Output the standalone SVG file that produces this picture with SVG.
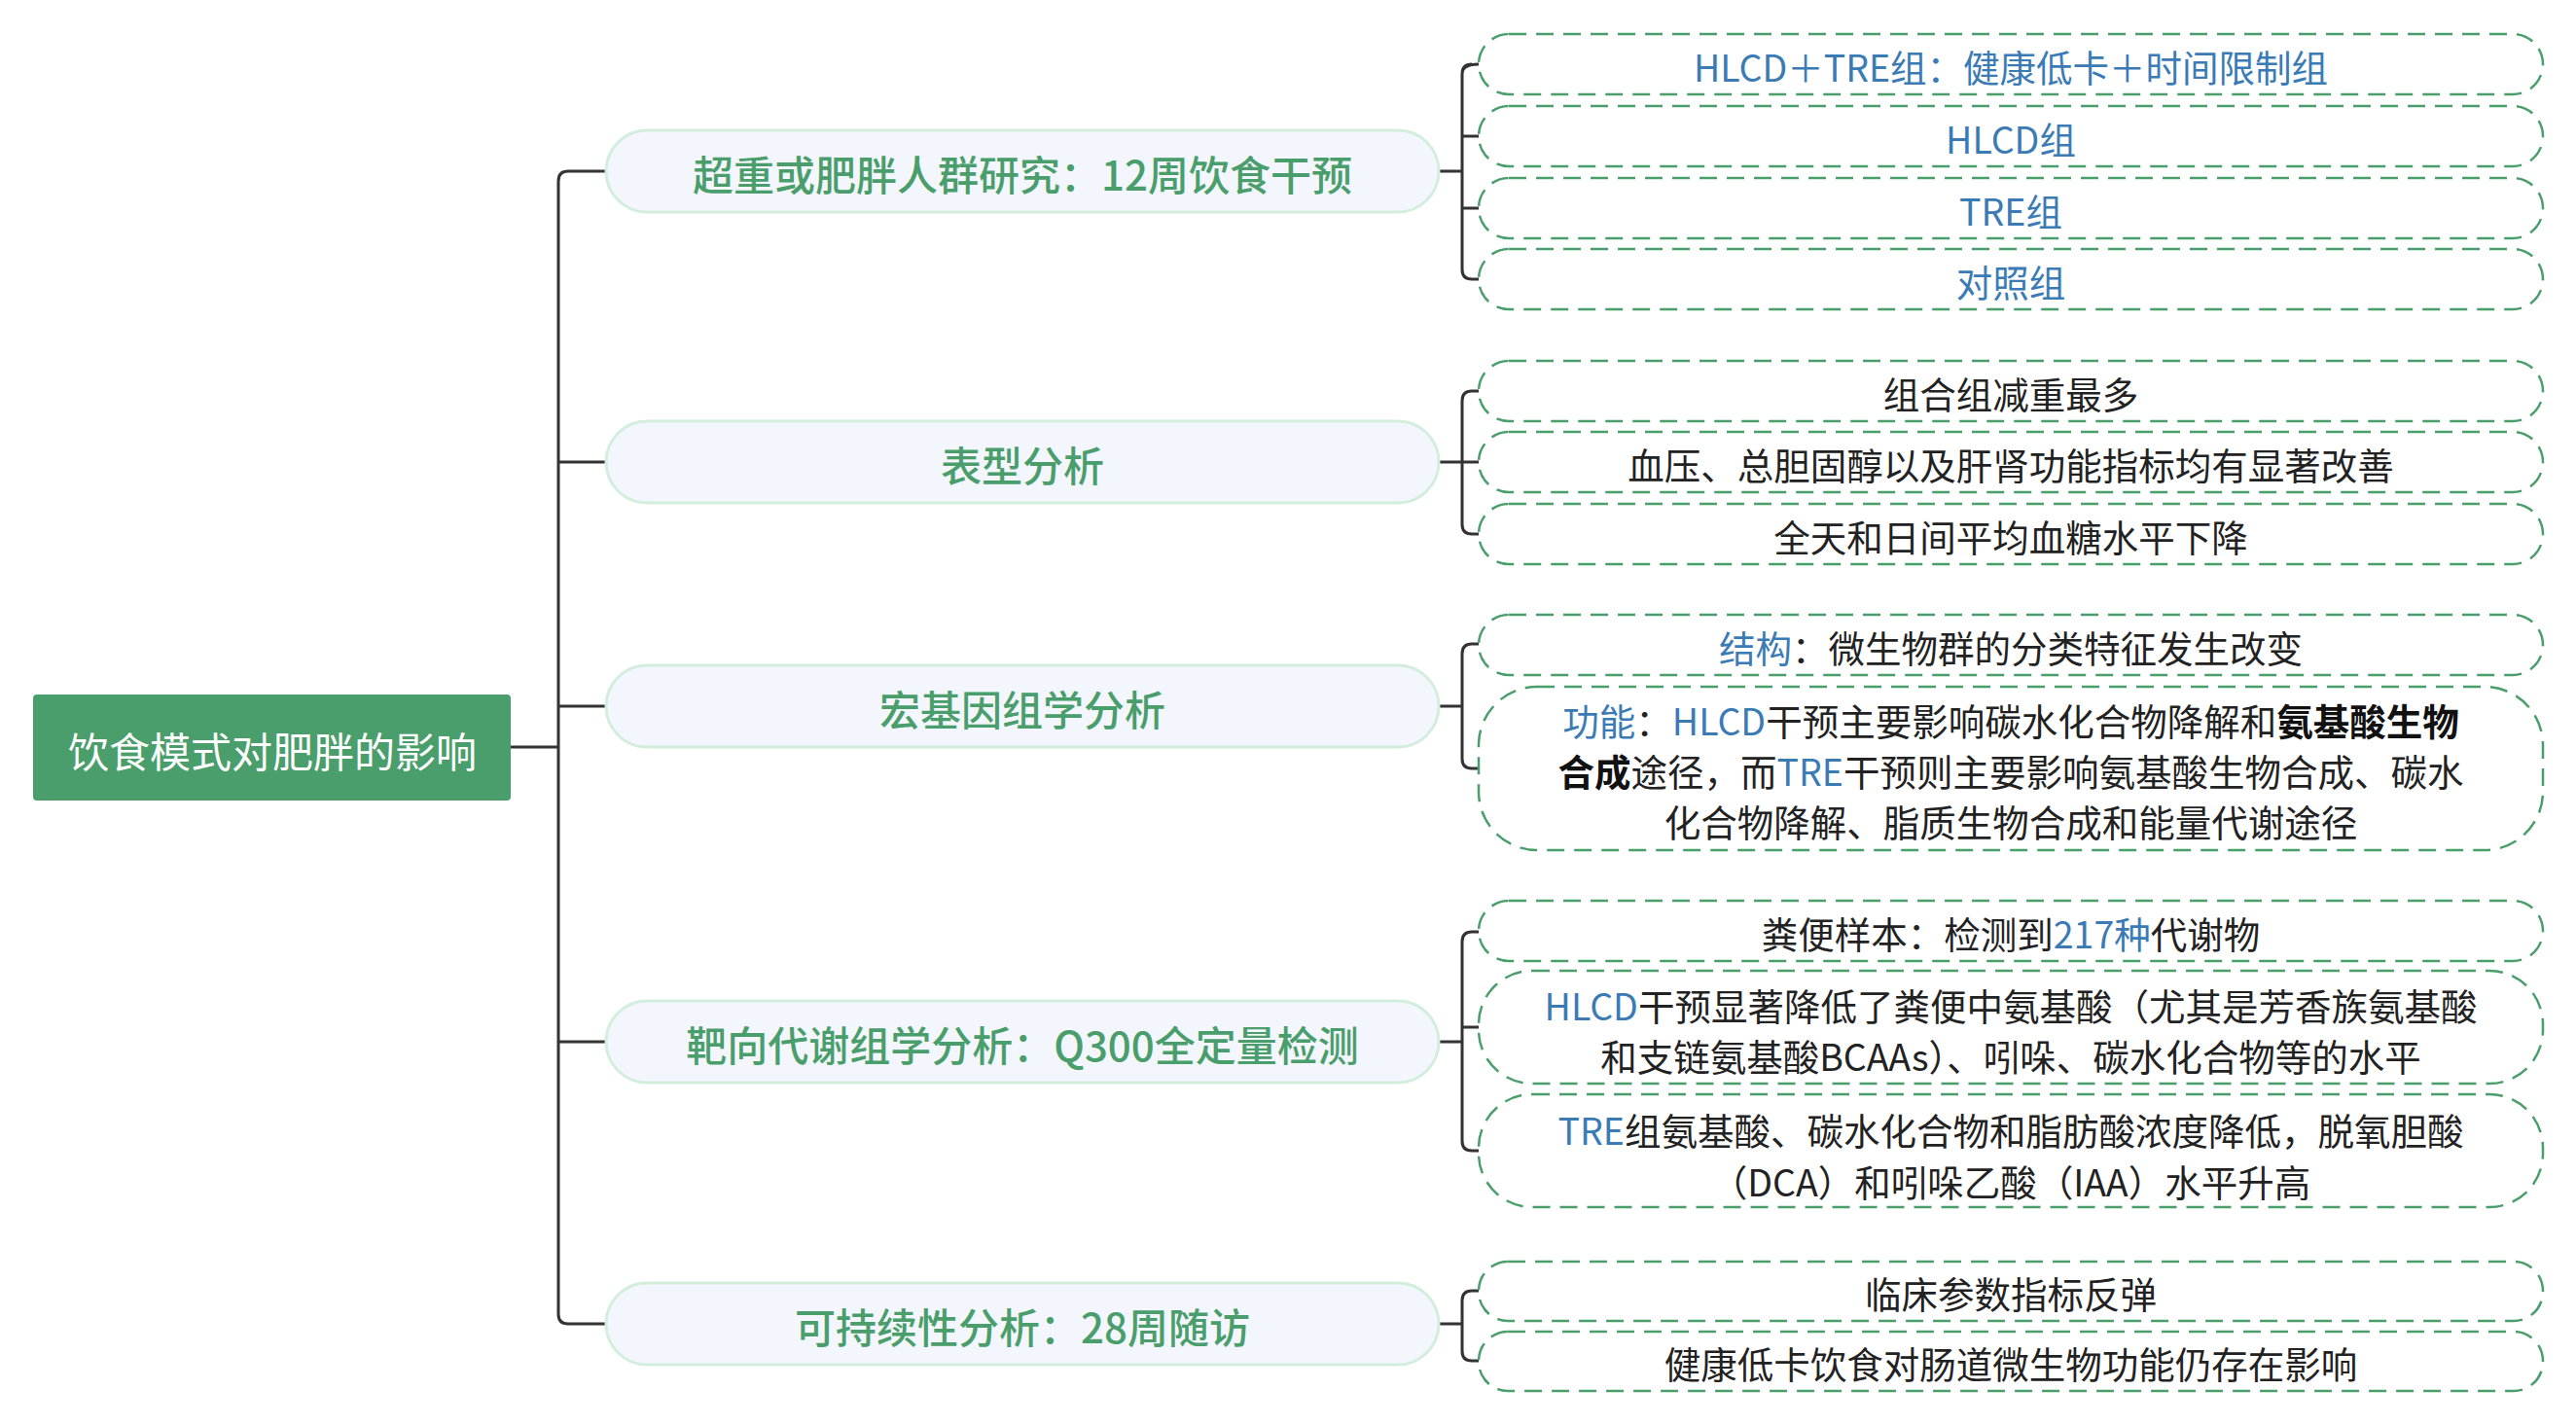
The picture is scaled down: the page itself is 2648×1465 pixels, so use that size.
<svg xmlns="http://www.w3.org/2000/svg" width="2648" height="1465" viewBox="0 0 2648 1465">
<style>
text{font-family:"Noto Sans CJK SC","Noto Sans",sans-serif;dominant-baseline:central;text-anchor:middle}
.br rect{fill:#f4f6fd;stroke:#d3eedd;stroke-width:3}
.br text{fill:#4a9e6b;font-size:42px;font-weight:500}
.lf rect{fill:#fff;stroke:#4a9e6b;stroke-width:2.5;stroke-dasharray:18 10}
.lf text{fill:#222;font-size:37.5px}
.lf .b{fill:#3b7bb5}
.lf .k{font-weight:bold;fill:#111}
.c path{fill:none;stroke:#333;stroke-width:3}
</style>
<rect width="2648" height="1465" fill="#fff"/>
<g class="c" id="connectors">
<path d="M525 768H574M574 186Q574 176 584 176H623M574 186V1351Q574 1361 584 1361H623M574 475H623M574 726H623M574 1071H623"/>
<path d="M1479 176H1503M1513 66Q1503 66 1503 76V277Q1503 287 1513 287H1520M1503 140H1520M1503 214H1520M1503 76Q1503 66 1520 66"/>
<path d="M1479 475H1503M1520 402H1513Q1503 402 1503 412V539Q1503 549 1513 549H1520M1503 475H1520"/>
<path d="M1479 726H1503M1520 662H1513Q1503 662 1503 672V780Q1503 790 1513 790H1520"/>
<path d="M1479 1071H1503M1520 958H1513Q1503 958 1503 968V1173Q1503 1183 1513 1183H1520M1503 1056H1520"/>
<path d="M1479 1361H1503M1520 1327H1513Q1503 1327 1503 1337V1389Q1503 1399 1513 1399H1520"/>
</g>
<g id="root"><rect x="34" y="714" width="491" height="109" rx="4" fill="#4a9e6b"/><text x="280" y="770" fill="#fff" font-size="42">饮食模式对肥胖的影响</text></g>
<g id="b1" class="br"><rect x="623" y="134" width="856" height="84" rx="42"/><text x="1051" y="177">超重或肥胖人群研究：12周饮食干预</text></g>
<g id="b2" class="br"><rect x="623" y="433" width="856" height="84" rx="42"/><text x="1051" y="476">表型分析</text></g>
<g id="b3" class="br"><rect x="623" y="684" width="856" height="84" rx="42"/><text x="1051" y="727">宏基因组学分析</text></g>
<g id="b4" class="br"><rect x="623" y="1029" width="856" height="84" rx="42"/><text x="1051" y="1072">靶向代谢组学分析：Q300全定量检测</text></g>
<g id="b5" class="br"><rect x="623" y="1319" width="856" height="84" rx="42"/><text x="1051" y="1362">可持续性分析：28周随访</text></g>
<g id="l1" class="lf"><rect x="1520" y="35" width="1094" height="62" rx="31"/><text x="2067" y="67" class="b">HLCD＋TRE组：健康低卡＋时间限制组</text></g>
<g id="l2" class="lf"><rect x="1520" y="109" width="1094" height="62" rx="31"/><text x="2067" y="141" class="b">HLCD组</text></g>
<g id="l3" class="lf"><rect x="1520" y="183" width="1094" height="62" rx="31"/><text x="2067" y="215" class="b">TRE组</text></g>
<g id="l4" class="lf"><rect x="1520" y="256" width="1094" height="62" rx="31"/><text x="2067" y="288" class="b">对照组</text></g>
<g id="l5" class="lf"><rect x="1520" y="371" width="1094" height="62" rx="31"/><text x="2067" y="403">组合组减重最多</text></g>
<g id="l6" class="lf"><rect x="1520" y="444" width="1094" height="62" rx="31"/><text x="2067" y="476">血压、总胆固醇以及肝肾功能指标均有显著改善</text></g>
<g id="l7" class="lf"><rect x="1520" y="518" width="1094" height="62" rx="31"/><text x="2067" y="550">全天和日间平均血糖水平下降</text></g>
<g id="l8" class="lf"><rect x="1520" y="632" width="1094" height="62" rx="31"/><text x="2067" y="664"><tspan class="b">结构</tspan>：微生物群的分类特征发生改变</text></g>
<g id="l9" class="lf"><rect x="1520" y="706" width="1094" height="168" rx="60"/>
<text x="2067" y="739"><tspan class="b">功能</tspan>：<tspan class="b">HLCD</tspan>干预主要影响碳水化合物降解和<tspan class="k">氨基酸生物</tspan></text>
<text x="2067" y="791"><tspan class="k">合成</tspan>途径，而<tspan class="b">TRE</tspan>干预则主要影响氨基酸生物合成、碳水</text>
<text x="2067" y="843">化合物降解、脂质生物合成和能量代谢途径</text></g>
<g id="l10" class="lf"><rect x="1520" y="926" width="1094" height="62" rx="31"/><text x="2067" y="958">粪便样本：检测到<tspan class="b">217种</tspan>代谢物</text></g>
<g id="l11" class="lf"><rect x="1520" y="998" width="1094" height="116" rx="55"/>
<text x="2067" y="1032"><tspan class="b">HLCD</tspan>干预显著降低了粪便中氨基酸（尤其是芳香族氨基酸</text>
<text x="2067" y="1084">和支链氨基酸BCAAs）、吲哚、碳水化合物等的水平</text></g>
<g id="l12" class="lf"><rect x="1520" y="1125" width="1094" height="116" rx="55"/>
<text x="2067" y="1160"><tspan class="b">TRE</tspan>组氨基酸、碳水化合物和脂肪酸浓度降低，脱氧胆酸</text>
<text x="2067" y="1213">（DCA）和吲哚乙酸（IAA）水平升高</text></g>
<g id="l13" class="lf"><rect x="1520" y="1297" width="1094" height="61" rx="30"/><text x="2067" y="1328">临床参数指标反弹</text></g>
<g id="l14" class="lf"><rect x="1520" y="1369" width="1094" height="61" rx="30"/><text x="2067" y="1400">健康低卡饮食对肠道微生物功能仍存在影响</text></g>
</svg>
